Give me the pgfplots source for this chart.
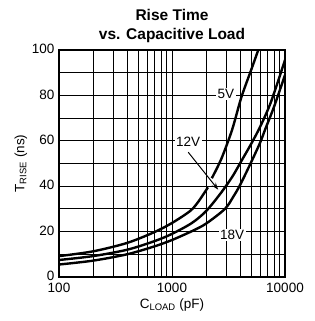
\documentclass[border=0pt]{standalone}
\usepackage{fontspec}
\setmainfont{Liberation Sans}
\usepackage{pgfplots}
\pgfplotsset{compat=1.18}
\usetikzlibrary{arrows.meta}
\begin{document}
\begin{tikzpicture}
\begin{axis}[
  name=ax,
  scale only axis,
  width=226pt, height=227pt,
  xmode=log,
  xmin=100, xmax=10000,
  ymin=0, ymax=100,
  xtick={100,1000,10000},
  xticklabels={100,1000,10000},
  minor xtick={200,300,400,500,600,700,800,900,2000,3000,4000,5000,6000,7000,8000,9000},
  ytick={0,20,40,60,80,100},
  minor ytick={10,30,50,70,90},
  grid=both,
  major grid style={black, line width=0.9pt},
  minor grid style={black, line width=0.8pt},
  major tick length=0pt, minor tick length=0pt,
  axis line style={black, line width=1.4pt},
  /pgf/number format/assume math mode=true,
  tick label style={font=\fontsize{13.5}{15}\selectfont},
  xticklabel style={yshift=-3pt},
  yticklabel style={xshift=-1pt, yshift=1pt},
  title={Rise Time\\vs. Capacitive Load},
  title style={font=\bfseries\fontsize{15.5}{19}\selectfont, align=center, yshift=-2pt},
  xlabel={C\textsubscript{LOAD} (pF)},
  ylabel={T\textsubscript{RISE} (ns)},
  label style={font=\fontsize{13.5}{15}\selectfont},
  xlabel style={yshift=1pt},
  ylabel style={yshift=-2pt},
]
% 5V (two pieces, gap where the 12V arrow crosses)
\addplot[black, line width=2.4pt, smooth] coordinates {
 (100,9.2) (200,11.3) (400,15) (700,19.8) (1000,23.8) (1440,29) (1700,33) (2080,39.5)
};
\addplot[black, line width=2.4pt, smooth] coordinates {
 (2250,43.5) (2730,52) (3400,64.8) (4100,79) (5000,91) (5800,100)
};
% 12V
\addplot[black, line width=2.4pt, smooth] coordinates {
 (100,7.5) (200,9.2) (400,12) (700,15.8) (1000,19) (1500,23.8) (2000,29) (2660,36.5) (3400,44) (4100,51) (5000,58.5) (6000,66) (7500,77) (10000,95.6)
};
% 18V
\addplot[black, line width=2.4pt, smooth] coordinates {
 (100,5.5) (200,7.2) (400,10) (700,13.5) (1000,16.3) (1500,20.2) (2000,23.5) (2940,30) (3500,35.5) (4000,40.5) (4900,49.5) (6000,59) (6650,64.8) (8000,75) (10000,89)
};
\node[fill=white, inner sep=1.5pt, font=\fontsize{13.5}{15}\selectfont] at (axis cs:3000,80.6) {5V};
\node[fill=white, inner sep=1.5pt, font=\fontsize{13.5}{15}\selectfont] at (axis cs:1390,59.5) {12V};
\node[fill=white, inner sep=1.5pt, font=\fontsize{13.5}{15}\selectfont] at (axis cs:3400,18.5) {18V};
\draw[line width=1pt, -{Stealth[length=7pt,width=5pt]}] (axis cs:1390,55) -- (axis cs:2560,38.5);
\end{axis}
\pgfresetboundingbox
\path (ax.south west) ++(-59pt,-44pt) coordinate (bbsw);
\path (ax.north east) ++(30pt,50pt) coordinate (bbne);
\path[use as bounding box] (bbsw) rectangle (bbne);
\end{tikzpicture}
\end{document}
